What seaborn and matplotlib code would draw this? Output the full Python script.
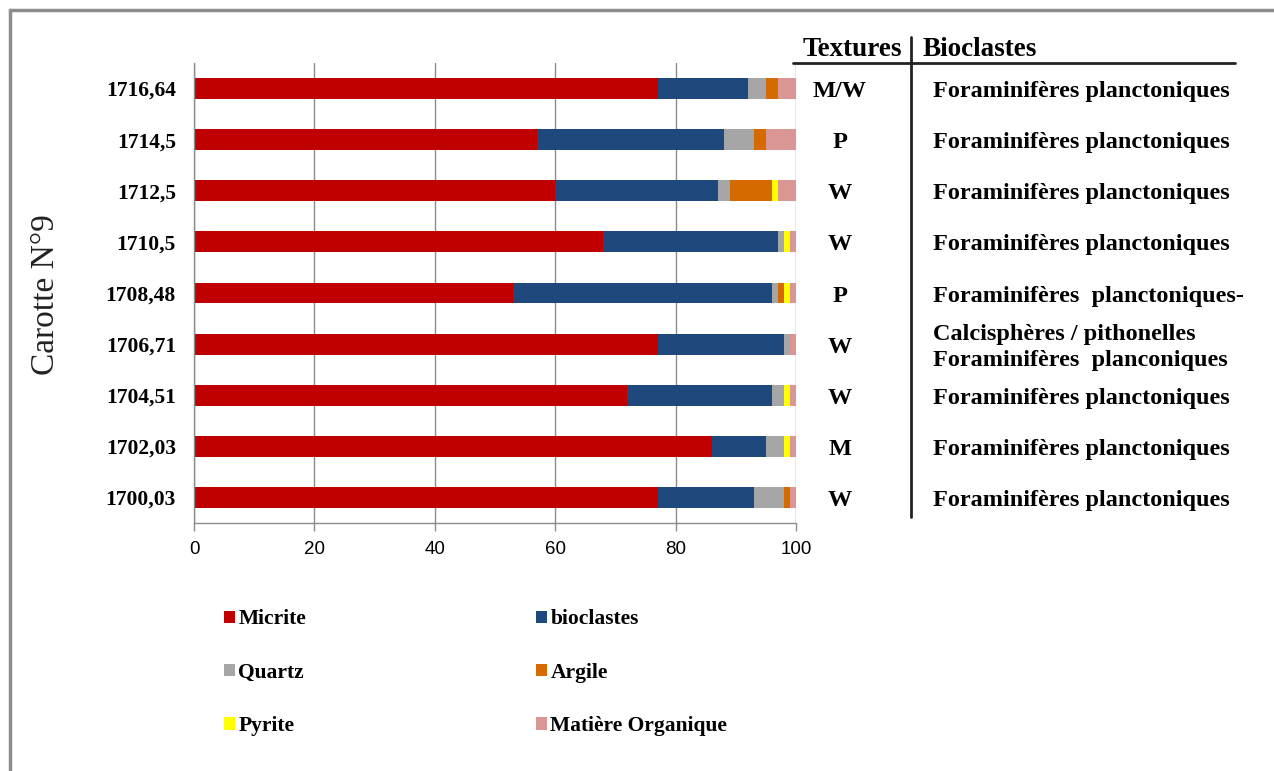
import matplotlib
matplotlib.use("Agg")
import matplotlib.pyplot as plt
import seaborn as sns
import numpy as np
from matplotlib.patches import Patch
from matplotlib.lines import Line2D
from matplotlib.transforms import blended_transform_factory

# depths (top to bottom), composition in %
depths = ["1716,64", "1714,5", "1712,5", "1710,5", "1708,48",
          "1706,71", "1704,51", "1702,03", "1700,03"]
micrite = [77, 57, 60, 68, 53, 77, 72, 86, 77]
bioclastes = [15, 31, 27, 29, 43, 21, 24, 9, 16]
quartz = [3, 5, 2, 1, 1, 1, 2, 3, 5]
argile = [2, 2, 7, 0, 1, 0, 0, 0, 1]
pyrite = [0, 0, 1, 1, 1, 0, 1, 1, 0]
matiere = [3, 5, 3, 1, 1, 1, 1, 1, 1]

components = ["Micrite", "bioclastes", "Quartz", "Argile", "Pyrite", "Matière Organique"]
colors = ["#C00000", "#1F497D", "#A6A6A6", "#D46A00", "#FFFF00", "#DA9694"]

textures = ["M/W", "P", "W", "W", "P", "W", "W", "M", "W"]
bioclast_txt = ["Foraminifères planctoniques", "Foraminifères planctoniques",
                "Foraminifères planctoniques", "Foraminifères planctoniques",
                "Foraminifères  planctoniques-",
                "Calcisphères / pithonelles\nForaminifères  planconiques",
                "Foraminifères planctoniques", "Foraminifères planctoniques",
                "Foraminifères planctoniques"]

serif = "Liberation Serif"
sns.set_style("white")
plt.rcParams["font.family"] = ["Liberation Serif", "DejaVu Serif"]
plt.rcParams["text.color"] = "black"
plt.rcParams["xtick.color"] = "black"
plt.rcParams["ytick.color"] = "black"

W, H = 1274, 771
fig = plt.figure(figsize=(W / 100, H / 100), dpi=100)
ax = fig.add_axes([194 / W, 1 - 523 / H, 602 / W, 460 / H])

# stacked bars: draw cumulative totals from the back to the front
series = [micrite, bioclastes, quartz, argile, pyrite, matiere]
cum = np.cumsum(np.array(series, dtype=float), axis=0)
for k in range(len(series) - 1, -1, -1):
    sns.barplot(x=cum[k], y=depths, order=depths, orient="h", color=colors[k],
                saturation=1, width=0.41, linewidth=0, ax=ax)

ax.set_xlim(0, 100)
ax.set_ylim(len(depths) - 0.5, -0.5)
ax.set_xticks([0, 20, 40, 60, 80, 100])
ax.set_xticklabels(["0", "20", "40", "60", "80", "100"], family="Liberation Sans", fontsize=13.5)
ax.grid(axis="x", color="#8C8C8C", linewidth=1)
ax.set_axisbelow(True)
ax.set_xlabel("")
ax.set_ylabel("")

for s in ["top", "right"]:
    ax.spines[s].set_visible(False)
for s in ["left", "bottom"]:
    ax.spines[s].set_color("#8C8C8C")
    ax.spines[s].set_linewidth(1)

ax.set_yticks(range(len(depths)))
ax.set_yticklabels(depths, fontsize=15.5, fontweight="bold", family=serif)
ax.set_yticks(np.arange(-0.5, len(depths), 1), minor=True)
ax.tick_params(axis="y", which="major", length=0, pad=13)
ax.tick_params(axis="y", which="minor", length=6, color="#8C8C8C", width=1)
ax.tick_params(axis="x", which="major", length=6, color="#8C8C8C", width=1, pad=7, bottom=True)

fig.text(46 / W, 1 - 295 / H, "Carotte N°9", rotation=90, ha="center", va="center",
         fontsize=24, family=serif, color="#222222")

# table on the right
tr = blended_transform_factory(fig.transFigure, ax.transData)
for i, (t, b) in enumerate(zip(textures, bioclast_txt)):
    ax.text(840 / W, i + 0.06, t, transform=tr, ha="center", va="center",
            fontsize=17.5, fontweight="bold", family=serif, clip_on=False)
    ax.text(933 / W, i + 0.06, b, transform=tr, ha="left", va="center",
            fontsize=17.5, fontweight="bold", family=serif, clip_on=False,
            linespacing=1.3)

fig.text(852 / W, 1 - 49 / H, "Textures", ha="center", va="center",
         fontsize=19.5, fontweight="bold", family=serif)
fig.text(923 / W, 1 - 49 / H, "Bioclastes", ha="left", va="center",
         fontsize=19.5, fontweight="bold", family=serif)
fig.add_artist(Line2D([793 / W, 1235 / W], [1 - 63 / H, 1 - 63 / H], color="#222222", lw=2))
fig.add_artist(Line2D([911 / W, 911 / W], [1 - 37 / H, 1 - 517 / H], color="#222222", lw=2))

# frame around the picture
fig.add_artist(Line2D([10 / W, 10 / W], [0, 1 - 10 / H], color="#8C8C8C", lw=2.5))
fig.add_artist(Line2D([10 / W, 1], [1 - 10 / H, 1 - 10 / H], color="#8C8C8C", lw=2.5))

# legend, filled column by column
idx = [0, 2, 4, 1, 3, 5]
handles = [Patch(facecolor=colors[i], edgecolor="none", label=components[i]) for i in idx]
fig.legend(handles=handles, ncol=2, loc="upper left", bbox_to_anchor=(205 / W, 1 - 590 / H),
           frameon=False, prop={"family": serif, "weight": "bold", "size": 15.5},
           handlelength=0.5, handleheight=0.5, handletextpad=0.15,
           labelspacing=1.55, columnspacing=10.7)

fig.savefig("out.png", dpi=100)
